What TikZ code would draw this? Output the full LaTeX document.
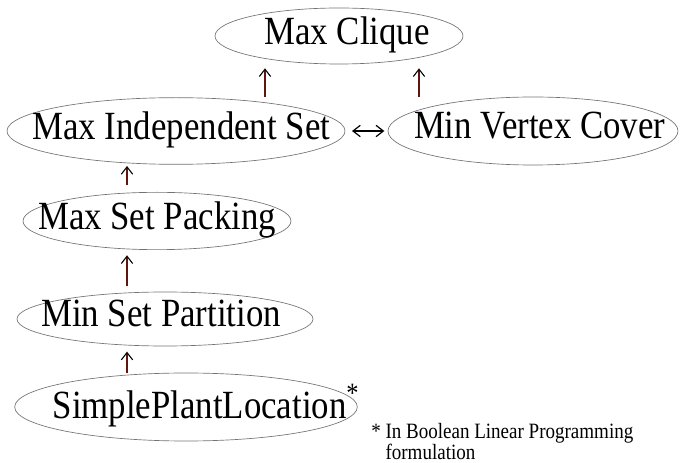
\documentclass[tikz,border=0pt]{standalone}
\usepackage{fontspec}
\setmainfont{Liberation Serif}[FakeStretch=0.87]
\usetikzlibrary{shapes.geometric,arrows.meta,calc}
\definecolor{shaftred}{RGB}{96,22,14}
\begin{document}
\begin{tikzpicture}[
        x=0.75pt,y=-0.75pt,
        oval/.style={ellipse,draw=black!55,line width=0.5pt,inner sep=0pt,font=\fontsize{30}{28}\selectfont},
        up/.style={draw=shaftred,line width=0.8pt,-{Straight Barb[length=5.5pt,width=8.5pt,black]}},
        both/.style={draw=black,line width=0.9pt,{Straight Barb[length=5.5pt,width=8.5pt]}-{Straight Barb[length=5.5pt,width=8.5pt]},shorten <=5pt,shorten >=2.5pt},
        note/.style={font=\fontsize{16.4}{14}\selectfont,inner sep=0pt}
      ]
      \useasboundingbox (0,0) rectangle (682,463);
      \node[oval,minimum width=186pt,minimum height=42pt] (mc) at (339,36) {\makebox[0pt]{\strut\hspace{12pt}Max Clique}};
      \node[oval,minimum width=253.5pt,minimum height=50pt] (mis) at (176,131) {\makebox[0pt]{\strut\hspace{8pt}Max Independent Set}};
      \node[oval,minimum width=217.5pt,minimum height=51pt] (mvc) at (533,131) {\makebox[0pt]{\strut\hspace{10pt}Min Vertex Cover}};
      \node[oval,minimum width=201pt,minimum height=43pt] (msp) at (157,221) {\makebox[0pt]{\strut Max Set Packing}};
      \node[oval,minimum width=222pt,minimum height=40.5pt] (mspart) at (165,319) {\makebox[0pt]{\strut\hspace{-6pt}Min Set Partition}};
      \node[oval,minimum width=257pt,minimum height=51pt] (spl) at (186,407) {\makebox[0pt]{\strut\hspace{30pt}SimplePlantLocation\raisebox{3pt}{\textsuperscript{*}}}};
      \node[note,anchor=north west] (fn) at (371,423) {\begin{tabular}{@{}l@{\ }l@{}}* & In Boolean Linear Programming\\ & formulation\end{tabular}};
      % reductions
      \draw[up,shorten >=3pt] ($(mis.north)+(89,0)$) -- ($(mc.south)+(-74,0)$);
      \draw[up,shorten >=3pt] ($(mvc.north)+(-114,0)$) -- ($(mc.south)+(80,0)$);
      \draw[both] (mis.east) -- (mvc.west);
      \draw[up,shorten <=5pt,shorten >=1pt] ($(msp.north)+(-30,0)$) -- ($(mis.south)+(-49,0)$);
      \draw[up,shorten <=4pt,shorten >=4pt] ($(mspart.north)+(-38,0)$) -- ($(msp.south)+(-30,0)$);
      \draw[up,shorten >=4pt] ($(spl.north)+(-59,0)$) -- ($(mspart.south)+(-38,0)$);
    \end{tikzpicture}
\end{document}
